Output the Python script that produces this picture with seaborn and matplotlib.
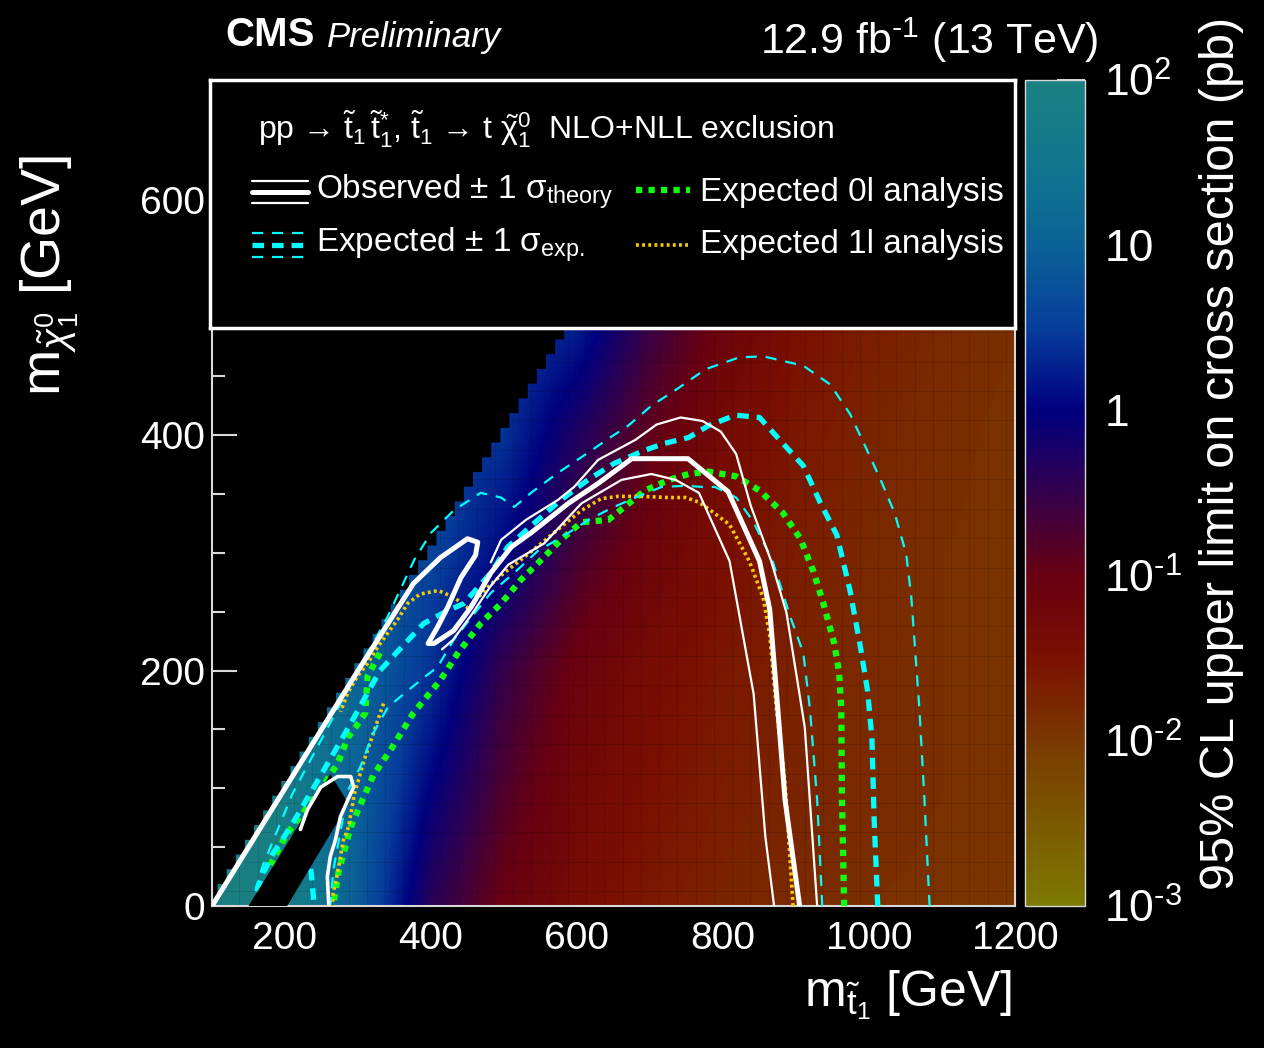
import numpy as np
import matplotlib
matplotlib.use('Agg')
import matplotlib.pyplot as plt
import seaborn as sns
from matplotlib import font_manager
from matplotlib.colors import LinearSegmentedColormap, LogNorm
from matplotlib.cm import ScalarMappable
from matplotlib.patches import Polygon
from matplotlib.ticker import MultipleLocator, LogLocator, NullFormatter

# === DATA ===
# grid nodes of the limit map (GeV)
MSTOP_NODES = [100, 200, 300, 400, 500, 600, 700, 800, 900, 1000, 1100, 1200]
MLSP_NODES = [0, 100, 200, 300, 400, 500, 600, 700]

# 95% CL upper limit (pb), one row per LSP mass
lim_lsp0 = [100, 80, 8.0, 0.4, 0.09, 0.04, 0.025, 0.018, 0.015, 0.013, 0.012, 0.011]
lim_lsp100 = [100, 63, 10, 1.0, 0.17, 0.055, 0.032, 0.022, 0.018, 0.015, 0.013, 0.0117]
lim_lsp200 = [63, 40, 12, 2.5, 0.3, 0.08, 0.04, 0.026, 0.019, 0.015, 0.013, 0.012]
lim_lsp300 = [25, 16, 8.0, 4.0, 1.1, 0.2, 0.07, 0.035, 0.022, 0.016, 0.013, 0.012]
lim_lsp400 = [16, 10, 6.3, 4.0, 2.5, 0.5, 0.12, 0.045, 0.026, 0.018, 0.014, 0.012]
lim_lsp500 = [10, 6.3, 5.0, 4.0, 3.2, 2.0, 0.3, 0.08, 0.035, 0.022, 0.016, 0.013]
lim_lsp600 = [6.3, 5.0, 4.0, 3.2, 2.5, 2.0, 1.3, 0.3, 0.08, 0.035, 0.022, 0.016]
lim_lsp700 = [5.0, 4.0, 3.2, 2.5, 2.0, 1.6, 1.3, 0.8, 0.2, 0.06, 0.03, 0.02]

# scanned region: mstop - mLSP >= ~95 GeV, drawn in small bins
BIN = 25
STEP = 12.5
MIN_SPLIT = 95

# removed compressed region (black band)
band_mstop = [150, 203, 287, 262]
band_mlsp = [0, 0, 87, 112]

# observed (thick white)
obs_mstop = [100, 200, 300, 376, 413, 450, 464, 461, 441, 423, 409, 396, 404, 431, 455, 482,
             510, 537, 588, 629, 675, 752, 807, 850, 864, 875, 885, 905]
obs_mlsp = [0, 100, 200, 274, 296, 312, 309, 298, 279, 254, 237, 223, 223, 234, 254, 283,
            305, 317, 342, 359, 380, 380, 352, 293, 252, 168, 90, 0]
obs2_mstop = [221, 231, 249, 272, 290, 294, 286, 276, 269, 262, 258, 260]
obs2_mlsp = [65, 82, 101, 110, 110, 101, 90, 76, 56, 42, 25, 0]

# observed +/- 1 sigma theory (thin white)
obsup_mstop = [929, 912, 887, 866, 838, 818, 797, 772, 742, 709, 680, 629, 596, 574, 530, 496, 482]
obsup_mlsp = [0, 152, 249, 293, 340, 384, 403, 412, 415, 409, 396, 379, 356, 345, 328, 311, 292]
obsdn_mstop = [870, 858, 842, 809, 767, 735, 702, 661, 606, 555, 506, 482, 455, 430, 415]
obsdn_mlsp = [0, 59, 180, 293, 351, 362, 367, 362, 342, 308, 290, 272, 247, 226, 218]

# expected (thick cyan dashed)
exp_mstop = [1012, 1007, 1004, 998, 988, 974, 956, 933, 910, 882, 850, 817, 780, 753, 720, 692,
             651, 615, 578, 541, 505, 482, 445, 420, 390, 330, 290, 250, 215, 194, 184, 170, 160]
exp_mlsp = [0, 74, 143, 183, 221, 268, 315, 343, 374, 393, 415, 417, 408, 398, 393, 387,
            376, 362, 345, 325, 305, 283, 257, 250, 240, 200, 155, 112, 75, 54, 45, 28, 10]
exp2_mstop = [232, 236, 240]
exp2_mlsp = [48, 28, 0]

# expected +/- 1 sigma experimental (thin cyan dashed)
expup_mstop = [1083, 1076, 1069, 1058, 1051, 1035, 1016, 993, 974, 947, 910, 855, 822, 776, 739,
               702, 670, 643, 615, 574, 537, 514, 496, 468, 431, 400, 377, 340, 300, 270, 240,
               210, 190, 170, 160]
expup_mlsp = [0, 90, 168, 262, 299, 334, 362, 393, 418, 443, 459, 467, 466, 456, 440,
              425, 408, 397, 385, 368, 351, 339, 347, 351, 336, 317, 294, 245, 200, 165, 130,
              95, 65, 35, 15]
expdn_mstop = [936, 929, 919, 910, 892, 868, 841, 818, 789, 772, 749, 716, 680, 647, 616, 578,
               547, 514, 482, 455, 431, 409, 386, 341, 321, 303, 286, 275, 266, 262]
expdn_mlsp = [0, 90, 168, 215, 246, 293, 327, 347, 356, 356, 357, 356, 347, 338, 328, 313,
              302, 283, 266, 245, 226, 203, 192, 169, 147, 118, 98, 60, 30, 0]

# expected 0l analysis (green dotted)
g_mstop = [966, 963, 962, 959, 952, 938, 924, 906, 882, 850, 818, 780, 753, 726, 693, 661, 643,
           606, 578, 551, 523, 496, 468, 437, 413, 376, 345, 321, 306, 290, 279, 273, 266]
g_mlsp = [0, 90, 168, 199, 224, 256, 284, 312, 334, 353, 365, 369, 367, 362, 353, 337, 328,
          326, 311, 294, 277, 257, 240, 215, 192, 164, 133, 111, 90, 67, 42, 28, 0]
g2_mstop = [330, 313, 310, 299, 286, 272, 250, 228, 207, 196, 180]
g2_mlsp = [215, 195, 164, 154, 143, 121, 100, 82, 65, 54, 35]

# expected 1l analysis (yellow dotted)
y_mstop = [896, 885, 873, 864, 855, 836, 809, 781, 767, 749, 726, 688, 656, 633, 606, 578, 551,
           523, 500, 478, 464, 451, 432, 410, 385, 368, 354, 341, 327, 313, 299, 286, 276]
y_mlsp = [0, 105, 168, 230, 262, 293, 324, 337, 343, 347, 347, 348, 348, 346, 336, 322, 308,
          294, 283, 271, 262, 253, 262, 268, 265, 257, 243, 232, 220, 206, 195, 181, 165]
y2_mstop = [335, 320, 307, 295, 287, 280, 276, 272, 266, 265]
y2_mlsp = [172, 145, 121, 95, 67, 56, 42, 28, 11, 0]

# colour palette stops (log10 pb)
PAL_POS = [-3, -2.5, -2, -1.5, -1, -0.5, 0, 0.5, 1, 1.5, 2]
PAL_COL = ['#7d7a00', '#7b5800', '#7a3800', '#7a1000', '#680012', '#33004c', '#00007f',
           '#063d9c', '#0b6297', '#11768e', '#1b8080']

HY = '\u2010'
CB_TICKS = [1e-3, 1e-2, 1e-1, 1, 10, 100]
CB_LABELS = ['$10^{%s3}$' % HY, '$10^{%s2}$' % HY, '$10^{%s1}$' % HY, '1', '10', '$10^{2}$']

# === STYLE ===
sns.set_theme(style='ticks')
names = {f.name for f in font_manager.fontManager.ttflist}
FONT = 'Liberation Sans Narrow' if 'Liberation Sans Narrow' in names else 'Liberation Sans'
plt.rcParams['font.family'] = [FONT, 'DejaVu Sans']
plt.rcParams['mathtext.fontset'] = 'custom'
plt.rcParams['mathtext.rm'] = FONT
plt.rcParams['mathtext.it'] = FONT + ':italic'
plt.rcParams['mathtext.bf'] = FONT + ':bold'
plt.rcParams['text.color'] = 'white'

fig = plt.figure(figsize=(12.64, 10.48), dpi=100, facecolor='black')
ax = fig.add_axes([212 / 1264, 142 / 1048, 803 / 1264, 824 / 1048])
ax.set_facecolor('black')

# --- limit map ---
cmap = LinearSegmentedColormap.from_list(
    'cms', [((p + 3) / 5, c) for p, c in zip(PAL_POS, PAL_COL)])
lim = np.array([lim_lsp0, lim_lsp100, lim_lsp200, lim_lsp300,
                lim_lsp400, lim_lsp500, lim_lsp600, lim_lsp700])
dx = MSTOP_NODES[1] - MSTOP_NODES[0]
dy = MLSP_NODES[1] - MLSP_NODES[0]
im = ax.imshow(np.log10(lim), origin='lower', cmap=cmap, vmin=-3, vmax=2,
               extent=[MSTOP_NODES[0] - dx / 2, MSTOP_NODES[-1] + dx / 2,
                       MLSP_NODES[0] - dy / 2, MLSP_NODES[-1] + dy / 2],
               interpolation='bilinear', interpolation_stage='data', aspect='auto', zorder=1)


def scan_region():
    # small staircase edge along the diagonal
    pts = [(MSTOP_NODES[-1], 0), (MSTOP_NODES[0], 0)]
    for l in np.arange(0, MLSP_NODES[-1] + STEP, STEP):
        left = l + MIN_SPLIT
        pts += [(left, max(l - STEP / 2, 0)), (left, l + STEP / 2)]
    pts.append((MSTOP_NODES[-1], MLSP_NODES[-1] + STEP))
    return Polygon(pts, transform=ax.transData)


im.set_clip_path(scan_region())

# faint 25 GeV bin edges
bins_x = np.arange(112.5, 1200, BIN)
bins_y = np.arange(12.5, 700, BIN)
vl = ax.vlines(bins_x, 0, 700, colors='black', alpha=0.12, lw=0.7, zorder=1.5)
hl = ax.hlines(bins_y, 100, 1200, colors='black', alpha=0.12, lw=0.7, zorder=1.5)
vl.set_clip_path(scan_region())
hl.set_clip_path(scan_region())


# --- contours ---
def contour(xs, ys, **kw):
    sns.lineplot(x=xs, y=ys, sort=False, estimator=None, ax=ax, legend=False, **kw)


CYAN = '#00ffff'
GREEN = '#10ff10'
YELLOW = '#f2cc00'
exp_thick = dict(color=CYAN, lw=3.8, linestyle=(0, (2.2, 1.5)))
exp_thin = dict(color=CYAN, lw=1.6, linestyle=(0, (5, 4)))
green = dict(color=GREEN, lw=4.5, linestyle=(0, (1, 1)))
yellow = dict(color=YELLOW, lw=2.6, linestyle=(0, (0.8, 0.9)))

contour(g_mstop, g_mlsp, zorder=3, **green)
contour(g2_mstop, g2_mlsp, zorder=3, **green)
contour(y_mstop, y_mlsp, zorder=3, **yellow)
contour(y2_mstop, y2_mlsp, zorder=3, **yellow)
contour(expup_mstop, expup_mlsp, zorder=3, **exp_thin)
contour(expdn_mstop, expdn_mlsp, zorder=3, **exp_thin)
contour(exp_mstop, exp_mlsp, zorder=3, **exp_thick)
contour(exp2_mstop, exp2_mlsp, zorder=3, **exp_thick)

ax.fill(band_mstop, band_mlsp, color='black', lw=0, zorder=4)

contour(obsup_mstop, obsup_mlsp, color='white', lw=1.6, zorder=5)
contour(obsdn_mstop, obsdn_mlsp, color='white', lw=1.6, zorder=5)
contour(obs_mstop, obs_mlsp, color='white', lw=3.6, zorder=5)
contour(obs2_mstop, obs2_mlsp, color='white', lw=2.6, zorder=5)

# --- axes ---
ax.set_xlim(100, 1200)
ax.set_ylim(0, 700)
ax.set_xlabel('')
ax.set_ylabel('')
ax.xaxis.set_major_locator(MultipleLocator(200))
ax.xaxis.set_minor_locator(MultipleLocator(50))
ax.yaxis.set_major_locator(MultipleLocator(200))
ax.yaxis.set_minor_locator(MultipleLocator(50))
ax.tick_params(which='both', direction='in', color='#d8d8d8', width=1.5,
               right=True, top=False, labelcolor='white', labelsize=28)
ax.tick_params(which='major', length=18)
ax.tick_params(which='minor', length=9)
ax.tick_params(axis='x', pad=11)
ax.tick_params(axis='y', pad=5)
for side in ['left', 'bottom', 'right']:
    ax.spines[side].set_color('#d8d8d8')
    ax.spines[side].set_linewidth(1.5)
ax.spines['top'].set_visible(False)

# --- colour bar ---
cax = fig.add_axes([1025 / 1264, 142 / 1048, 60 / 1264, 826 / 1048])
sm = ScalarMappable(norm=LogNorm(1e-3, 1e2), cmap=cmap)
cb = fig.colorbar(sm, cax=cax)
cb.outline.set_edgecolor('#d8d8d8')
cb.outline.set_linewidth(1)
cb.set_ticks(CB_TICKS, labels=CB_LABELS)
cax.yaxis.set_minor_locator(LogLocator(subs=range(2, 10)))
cax.yaxis.set_minor_formatter(NullFormatter())
cax.tick_params(which='both', direction='in', color='white', width=1.2, labelcolor='white',
                labelsize=32, pad=14)
cax.tick_params(which='major', length=20)
cax.tick_params(which='minor', length=10)

# --- legend box ---
lax = fig.add_axes([210 / 1264, 720 / 1048, 805 / 1264, 248 / 1048], zorder=10)
lax.set_facecolor('black')
lax.set_xlim(0, 1)
lax.set_ylim(0, 1)
lax.set_xticks([])
lax.set_yticks([])
for s in lax.spines.values():
    s.set_color('white')
    s.set_linewidth(2.5)

lax.text(0.06, 0.80,
         r'pp → $\tilde{\mathrm{t}}_1\,\tilde{\mathrm{t}}_1^{*}$, '
         r'$\tilde{\mathrm{t}}_1$ → t $\tilde{\mathrm{\chi}}^0_1$  NLO+NLL exclusion',
         fontsize=23, va='center', ha='left')
ix = [0.052, 0.122]
lax.plot(ix, [0.593, 0.593], color='white', lw=1.6)
lax.plot(ix, [0.548, 0.548], color='white', lw=3.6)
lax.plot(ix, [0.503, 0.503], color='white', lw=1.6)
lax.text(0.132, 0.548, r'Observed ± 1 σ$_{\mathrm{theory}}$', fontsize=24, va='center')
lax.plot(ix, [0.383, 0.383], **exp_thin)
lax.plot(ix, [0.335, 0.335], **exp_thick)
lax.plot(ix, [0.287, 0.287], **exp_thin)
lax.text(0.132, 0.335, r'Expected ± 1 σ$_{\mathrm{exp.}}$', fontsize=24, va='center')
lax.plot([0.529, 0.596], [0.556, 0.556], **green)
lax.text(0.609, 0.548, 'Expected 0l analysis', fontsize=24, va='center')
lax.plot([0.529, 0.596], [0.335, 0.335], **yellow)
lax.text(0.609, 0.335, 'Expected 1l analysis', fontsize=24, va='center')

# --- titles and labels ---
fig.text(225 / 1264, 1 - 35 / 1048, 'CMS', fontsize=29, fontweight='bold', va='center', ha='left')
fig.text(327 / 1264, 1 - 37 / 1048, 'Preliminary', fontsize=25, fontstyle='italic',
         va='center', ha='left')
fig.text(1098 / 1264, 1 - 40 / 1048, r'12.9 fb$^{%s1}$ (13 TeV)' % HY, fontsize=31,
         va='center', ha='right')
fig.text(1012 / 1264, 1 - 995 / 1048, r'$\mathrm{m}_{\tilde{\mathrm{t}}_1}$ [GeV]', fontsize=36,
         va='center', ha='right')
fig.text(50 / 1264, 1 - 155 / 1048, r'$\mathrm{m}_{\tilde{\chi}^0_1}$ [GeV]', fontsize=40,
         rotation=90, va='top', ha='center')
fig.text(1222 / 1264, 1 - 890 / 1048, '95% CL upper limit on cross section (pb)', fontsize=35,
         rotation=90, va='bottom', ha='center')

fig.savefig('out.png', dpi=100, facecolor='black')
